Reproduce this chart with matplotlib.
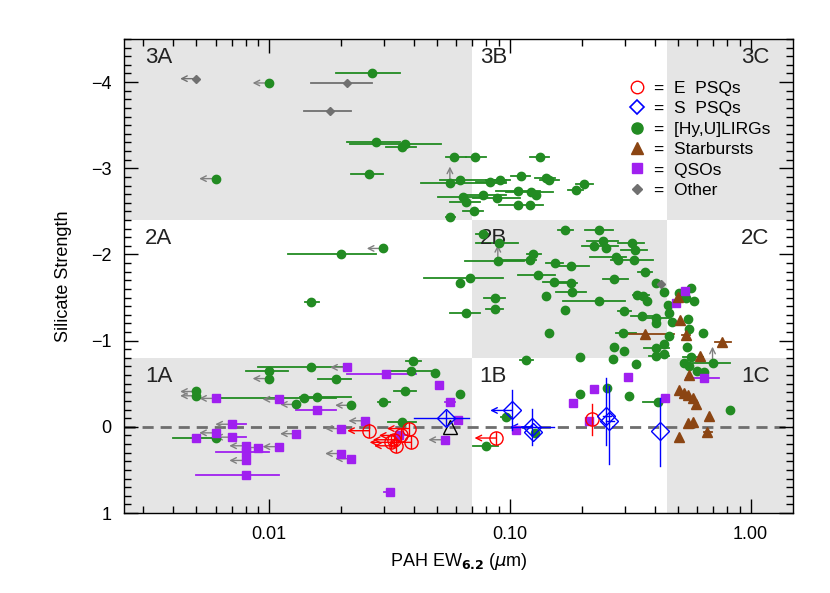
import numpy as np
import matplotlib.pyplot as plt
from matplotlib.ticker import FixedLocator, MultipleLocator, NullFormatter, LogLocator
from matplotlib.lines import Line2D

plt.rcParams['font.family'] = ['Liberation Sans', 'DejaVu Sans']

nan = np.nan

# diagram boundaries (PAH EW cuts, silicate cuts)
pah_cuts = [0.07, 0.45]
sil_cuts = [-2.4, -0.8]
x_range = [0.0025, 1.5]
y_range = [1.0, -4.5]

# [Hy,U]LIRGs, detections
lirg_x = [0.0269, 0.0279, 0.0367, 0.0358, 0.0586, 0.0719, 0.134, 0.0259, 0.0564, 0.0623,
          0.0824, 0.0915, 0.111, 0.141, 0.146, 0.203, 0.189, 0.108, 0.123, 0.129,
          0.0773, 0.0638, 0.0883, 0.0657, 0.108, 0.121, 0.0709, 0.0564,
          0.0200, 0.0149, 0.0686, 0.0619, 0.0657, 0.0773, 0.0900, 0.0892, 0.0867, 0.0867,
          0.121, 0.125, 0.131, 0.142, 0.146, 0.170, 0.154, 0.179, 0.152, 0.179, 0.182, 0.170,
          0.235, 0.245, 0.223, 0.251, 0.321, 0.332, 0.276, 0.281, 0.327, 0.363, 0.272, 0.235,
          0.405, 0.436, 0.339, 0.359, 0.370, 0.299, 0.353, 0.405, 0.404, 0.452, 0.457, 0.472,
          0.294, 0.457, 0.272, 0.297, 0.405, 0.436, 0.436, 0.405, 0.195, 0.268, 0.117, 0.334,
          0.506, 0.566, 0.540, 0.580, 0.548, 0.553, 0.632, 0.543, 0.695, 0.566, 0.531, 0.557, 0.597, 0.638,
          0.195, 0.254, 0.312, 0.414, 0.821, 0.0966, 0.127, 0.0798,
          0.0396, 0.0149, 0.0100, 0.0388, 0.0487, 0.0189, 0.0367, 0.0140, 0.0159, 0.0298, 0.0619, 0.0358, 0.0060]
lirg_y = [-4.10, -3.30, -3.28, -3.25, -3.13, -3.13, -3.13, -2.93, -2.83, -2.86,
          -2.84, -2.86, -2.91, -2.89, -2.86, -2.82, -2.75, -2.74, -2.72, -2.69,
          -2.69, -2.67, -2.65, -2.61, -2.57, -2.57, -2.51, -2.43,
          -2.00, -1.45, -1.73, -1.67, -1.32, -2.24, -2.13, -1.92, -1.50, -1.37,
          -1.93, -2.01, -1.76, -1.52, -1.09, -2.28, -1.90, -1.87, -1.68, -1.67, -1.57, -1.36,
          -2.28, -2.16, -2.10, -2.07, -2.13, -2.05, -1.97, -1.93, -1.93, -1.80, -1.71, -1.46,
          -1.67, -1.57, -1.53, -1.52, -1.46, -1.34, -1.29, -1.26, -1.20, -1.41, -1.32, -1.22,
          -1.09, -1.05, -0.93, -0.88, -0.91, -0.96, -0.84, -0.82, -0.81, -0.79, -0.78, -0.73,
          -1.55, -1.61, -1.49, -1.46, -1.25, -1.13, -1.09, -0.93, -0.74, -0.81, -0.74, -0.70, -0.65, -0.64,
          -0.38, -0.45, -0.36, -0.29, -0.19, -0.11, 0.075, 0.22,
          -0.76, -0.69, -0.65, -0.65, -0.62, -0.55, -0.42, -0.33, -0.35, -0.29, -0.38, -0.06, 0.13]
lirg_xlo = [0.0190, 0.0210, 0.0216, 0.0307, 0.0542, 0.0657, 0.121, 0.0220, 0.0429, 0.0511,
            0.0725, 0.080, 0.101, 0.127, 0.134, 0.189, 0.174, 0.0878, 0.0966, nan,
            0.0638, 0.0503, 0.0702, 0.0562, 0.0900, nan, 0.0638, 0.0542,
            0.0120, 0.0141, 0.0439, nan, 0.0564, 0.0725, 0.0725, 0.0649, 0.078, 0.0798,
            0.0900, 0.118, 0.108, nan, nan, 0.158, 0.142, 0.158, 0.137, 0.158, 0.156, nan,
            0.205, 0.209, 0.200, nan, 0.281, 0.289, 0.216, nan, 0.264, 0.342, 0.243, 0.166,
            nan, nan, 0.325, nan, nan, 0.281, 0.318, 0.368, nan, nan, nan, nan,
            0.276, nan, nan, nan, 0.362, nan, nan, 0.380, nan, nan, 0.110, nan,
            nan, nan, nan, nan, nan, nan, nan, nan, 0.574, 0.522, nan, nan, nan, nan,
            nan, nan, nan, 0.359, nan, 0.0917, nan, 0.0702,
            0.0369, 0.0090, 0.0080, 0.0307, nan, 0.0160, 0.0329, 0.0060, 0.0134, 0.0283, nan, 0.0312, 0.0040]
lirg_xhi = [0.0349, 0.0349, 0.0519, 0.0409, 0.0657, 0.0798, 0.146, 0.0298, 0.0966, 0.0966,
            0.0966, 0.100, 0.121, 0.154, 0.160, 0.221, 0.201, 0.133, 0.151, nan,
            0.0966, 0.0749, 0.110, 0.0749, 0.137, nan, 0.0773, 0.0595,
            0.0279, 0.0161, 0.0935, nan, 0.0749, 0.0824, 0.108, 0.115, 0.0957, 0.0935,
            0.129, 0.135, 0.154, nan, nan, 0.183, 0.166, 0.214, 0.174, 0.190, 0.207, nan,
            0.268, 0.281, 0.281, nan, 0.362, 0.372, 0.304, nan, 0.392, 0.390, 0.309, 0.302,
            nan, nan, 0.380, nan, nan, 0.318, 0.405, 0.457, nan, nan, nan, nan,
            0.334, nan, nan, nan, 0.457, nan, nan, 0.457, nan, nan, 0.125, nan,
            nan, nan, nan, nan, nan, nan, nan, nan, 0.821, 0.632, nan, nan, nan, nan,
            nan, nan, nan, 0.425, nan, 0.101, nan, 0.0893,
            0.0429, 0.0203, 0.0120, 0.0503, nan, 0.0220, 0.0409, 0.0189, 0.0220, 0.0319, nan, 0.0409, 0.0061]
# [Hy,U]LIRGs, PAH upper limits
lirg_ul_x = [0.0100, 0.0060, 0.0298, 0.0100, 0.0050, 0.0050, 0.0130, 0.0220]
lirg_ul_y = [-3.99, -2.88, -2.07, -0.56, -0.41, -0.36, -0.26, -0.25]
# silicate limits (arrows pointing up)
lirg_ll_x = [0.0564, 0.0892, 0.695]
lirg_ll_y = [-2.83, -1.92, -0.74]

# QSOs
qso_x = [0.535, 0.490, 0.638, 0.223, 0.310, 0.183, 0.443, 0.213, 0.106, 0.0609,
         0.0564, 0.0510, 0.0307, 0.0159, 0.0050, 0.0080, 0.0080, 0.0319, 0.0346]
qso_y = [-1.58, -1.44, -0.57, -0.44, -0.58, -0.28, -0.34, -0.07, 0.04, -0.08,
         -0.29, -0.49, -0.61, -0.20, 0.13, 0.29, 0.56, 0.76, 0.09]
qso_xlo = [nan, nan, 0.540, nan, nan, nan, nan, nan, nan, nan,
           0.0537, nan, 0.0210, 0.0130, nan, 0.0060, 0.0050, 0.0300, 0.0322]
qso_xhi = [nan, nan, 0.741, nan, nan, nan, nan, nan, nan, nan,
           0.0594, nan, 0.0409, 0.0189, nan, 0.0100, 0.0110, 0.0330, 0.0375]
qso_ul_x = [0.0537, 0.0210, 0.0060, 0.0110, 0.0250, 0.0200, 0.0070, 0.0060,
            0.0070, 0.0130, 0.0080, 0.0090, 0.0110, 0.0080, 0.0200, 0.0220]
qso_ul_y = [0.15, -0.69, -0.33, -0.32, -0.07, 0.02, -0.03, 0.07,
            0.12, 0.08, 0.22, 0.24, 0.23, 0.39, 0.31, 0.37]
qso_ul_xhi = [nan, nan, nan, nan, nan, nan, 0.0080, nan,
              0.0080, nan, nan, nan, nan, nan, nan, nan]

# E PSQs
epsq_x = [0.0260, 0.0380, 0.0352, 0.0332, 0.0322, 0.0388, 0.0336, 0.0878, 0.219]
epsq_y = [0.045, 0.02, 0.10, 0.15, 0.18, 0.18, 0.22, 0.13, -0.09]
epsq_ylo = [-0.03, -0.05, 0.03, 0.08, 0.11, 0.11, 0.15, 0.06, -0.27]
epsq_yhi = [0.12, 0.09, 0.17, 0.22, 0.25, 0.25, 0.29, 0.20, 0.10]
epsq_ul = [1, 1, 1, 1, 1, 1, 1, 1, 0]

# S PSQs
spsq_x = [0.0542, 0.102, 0.124, 0.125, 0.251, 0.259, 0.421]
spsq_y = [-0.10, -0.19, 0.00, 0.06, -0.13, -0.07, 0.045]
spsq_ylo = [-0.18, -0.43, -0.21, nan, -0.57, -0.47, -0.33]
spsq_yhi = [-0.02, 0.04, 0.21, nan, 0.21, 0.43, 0.45]
spsq_xlo = [0.0402, nan, 0.101, nan, 0.243, 0.250, nan]
spsq_xhi = [0.0680, nan, 0.153, nan, 0.262, 0.270, nan]
spsq_ul = [0, 1, 1, 0, 0, 0, 0]

# Starbursts
sb_x = [0.500, 0.511, 0.366, 0.537, 0.761, 0.619, 0.553, 0.502, 0.527,
        0.548, 0.574, 0.594, 0.674, 0.548, 0.574, 0.659, 0.502]
sb_y = [-1.51, -1.24, -1.08, -1.07, -0.99, -0.82, -0.60, -0.43, -0.39,
        -0.37, -0.34, -0.27, -0.12, -0.05, -0.06, 0.06, 0.12]
sb_xlo = [nan, nan, 0.304, 0.520, 0.710, nan, nan, nan, nan,
          nan, nan, nan, nan, nan, nan, 0.640, nan]
sb_xhi = [nan, nan, 0.482, 0.560, 0.830, nan, nan, nan, nan,
          nan, nan, nan, nan, nan, nan, 0.690, nan]

# Other
oth_x = [0.0210, 0.0179, 0.425]
oth_y = [-3.99, -3.67, -1.66]
oth_xlo = [0.0150, 0.0140, nan]
oth_xhi = [0.0269, 0.0220, nan]
oth_ul_x = [0.0050]
oth_ul_y = [-4.04]

# unclassified source (open black triangle)
misc_x = [0.0562]
misc_y = [0.006]

c_lirg = '#228B22'
c_qso = '#A020F0'
c_sb = '#8B4513'
c_oth = '#707070'
c_arrow = '#808080'

fig = plt.figure(figsize=(8.3, 5.93), dpi=100)
ax = fig.add_axes([0.1494, 0.1349, 0.8060, 0.7993])

# shaded regions
shade = '#e5e5e5'
x_edges = [x_range[0], pah_cuts[0], pah_cuts[1], x_range[1]]
y_edges = [y_range[1], sil_cuts[0], sil_cuts[1], y_range[0]]
for (i, j) in [(0, 0), (2, 0), (1, 1), (0, 2), (2, 2)]:
    ax.fill_between([x_edges[i], x_edges[i + 1]], y_edges[j], y_edges[j + 1],
                    color=shade, lw=0, zorder=0)

ax.axhline(0, color='#6e6e6e', ls=(0, (4, 2.5)), lw=2, zorder=1)

# region labels
lab_y = [-4.28, -2.18, -0.58]
for k, row in enumerate(['3', '2', '1']):
    ax.text(0.00305, lab_y[k], row + 'A', fontsize=16, ha='left', va='center', color='#222222')
    ax.text(0.075, lab_y[k], row + 'B', fontsize=16, ha='left', va='center', color='#222222')
    ax.text(1.20, lab_y[k], row + 'C', fontsize=16, ha='right', va='center', color='#222222')


def hbars(x_lo, x_hi, y, color):
    for a, b, yy in zip(x_lo, x_hi, y):
        if np.isfinite(a):
            ax.plot([a, b], [yy, yy], color=color, lw=1.3, zorder=2)


def left_arrows(x, y, color, dex=0.068):
    for xx, yy in zip(x, y):
        ax.annotate('', xy=(xx * 10 ** (-dex), yy), xytext=(xx, yy),
                    arrowprops=dict(arrowstyle='->', color=color, lw=1.0,
                                    shrinkA=0, shrinkB=0, mutation_scale=10), zorder=2)


# LIRGs
hbars(lirg_xlo, lirg_xhi, lirg_y, c_lirg)
left_arrows(lirg_ul_x, lirg_ul_y, c_arrow)
for xx, yy in zip(lirg_ll_x, lirg_ll_y):
    ax.annotate('', xy=(xx, yy - 0.19), xytext=(xx, yy - 0.04),
                arrowprops=dict(arrowstyle='->', color=c_arrow, lw=1.0,
                                shrinkA=0, shrinkB=0, mutation_scale=10), zorder=2)
ax.plot(lirg_x, lirg_y, 'o', color=c_lirg, ms=6, mec=c_lirg, zorder=3)
ax.plot(lirg_ul_x, lirg_ul_y, 'o', color=c_lirg, ms=6, zorder=3)

# QSOs
hbars(qso_xlo, qso_xhi, qso_y, c_qso)
hbars(qso_ul_x, qso_ul_xhi, qso_ul_y, c_qso)
left_arrows(qso_ul_x, qso_ul_y, c_arrow)
ax.plot(qso_x, qso_y, 's', color=c_qso, ms=5.5, zorder=3)
ax.plot(qso_ul_x, qso_ul_y, 's', color=c_qso, ms=5.5, zorder=3)

# Starbursts
hbars(sb_xlo, sb_xhi, sb_y, c_sb)
ax.plot(sb_x, sb_y, '^', color=c_sb, ms=6.5, zorder=3)

# Other
hbars(oth_xlo, oth_xhi, oth_y, c_oth)
left_arrows(oth_ul_x, oth_ul_y, c_oth)
ax.plot(oth_x, oth_y, 'D', color=c_oth, ms=4, zorder=3)
ax.plot(oth_ul_x, oth_ul_y, 'D', color=c_oth, ms=4, zorder=3)

ax.plot(misc_x, misc_y, '^', mfc='none', mec='black', ms=10, mew=1.0, zorder=4)

# E PSQs
for xx, yy, lo, hi, ul in zip(epsq_x, epsq_y, epsq_ylo, epsq_yhi, epsq_ul):
    ax.plot([xx, xx], [lo, hi], color='red', lw=1.0, zorder=4)
    if ul:
        left_arrows([xx], [yy], 'red', dex=0.09)
ax.plot(epsq_x, epsq_y, 'o', mfc='none', mec='red', ms=9.5, mew=1.0, zorder=5)

# S PSQs
for xx, yy, lo, hi, xl, xh, ul in zip(spsq_x, spsq_y, spsq_ylo, spsq_yhi, spsq_xlo, spsq_xhi, spsq_ul):
    if np.isfinite(lo):
        ax.plot([xx, xx], [lo, hi], color='blue', lw=1.0, zorder=4)
    if np.isfinite(xl):
        ax.plot([xl, xh], [yy, yy], color='blue', lw=1.0, zorder=4)
    if ul:
        left_arrows([xx], [yy], 'blue', dex=0.09)
ax.plot(spsq_x, spsq_y, 'D', mfc='none', mec='blue', ms=9, mew=1.0, zorder=5)

# axes
ax.set_xscale('log')
ax.set_xlim(x_range)
ax.set_ylim(y_range)
ax.xaxis.set_major_locator(FixedLocator([0.01, 0.1, 1.0]))
ax.set_xticklabels(['0.01', '0.10', '1.00'])
ax.xaxis.set_minor_locator(LogLocator(base=10, subs=np.arange(2, 10)))
ax.xaxis.set_minor_formatter(NullFormatter())
ax.yaxis.set_major_locator(MultipleLocator(1))
ax.yaxis.set_minor_locator(MultipleLocator(0.1))
ax.tick_params(which='both', direction='in', top=True, right=True, labelsize=13, color='black')
ax.tick_params(which='major', length=10, width=1, pad=9)
ax.tick_params(which='minor', length=5, width=1)
for s in ax.spines.values():
    s.set_linewidth(1)

ax.set_xlabel(r'PAH EW$_{\mathbf{6.2}}$ ($\mu$m)', fontsize=13, labelpad=6)
ax.set_ylabel('Silicate Strength', fontsize=13, labelpad=14)

# legend
handles = [
    Line2D([], [], ls='none', marker='o', mfc='none', mec='red', ms=9, mew=1.0),
    Line2D([], [], ls='none', marker='D', mfc='none', mec='blue', ms=7.5, mew=1.2),
    Line2D([], [], ls='none', marker='o', color=c_lirg, ms=8),
    Line2D([], [], ls='none', marker='^', color=c_sb, ms=8),
    Line2D([], [], ls='none', marker='s', color=c_qso, ms=7.5),
    Line2D([], [], ls='none', marker='D', color=c_oth, ms=5),
]
names = ['=  E  PSQs', '=  S  PSQs', '=  [Hy,U]LIRGs', '=  Starbursts', '=  QSOs', '=  Other']
leg = ax.legend(handles, names, loc='upper right', bbox_to_anchor=(0.978, 0.928),
                fontsize=12.5, frameon=True, fancybox=False, framealpha=0,
                edgecolor='#555555', handlelength=1.0, handletextpad=0.5,
                labelspacing=0.3, borderpad=0.45, borderaxespad=0)
leg.get_frame().set_linewidth(1.0)

fig.savefig('out.png', dpi=100)
